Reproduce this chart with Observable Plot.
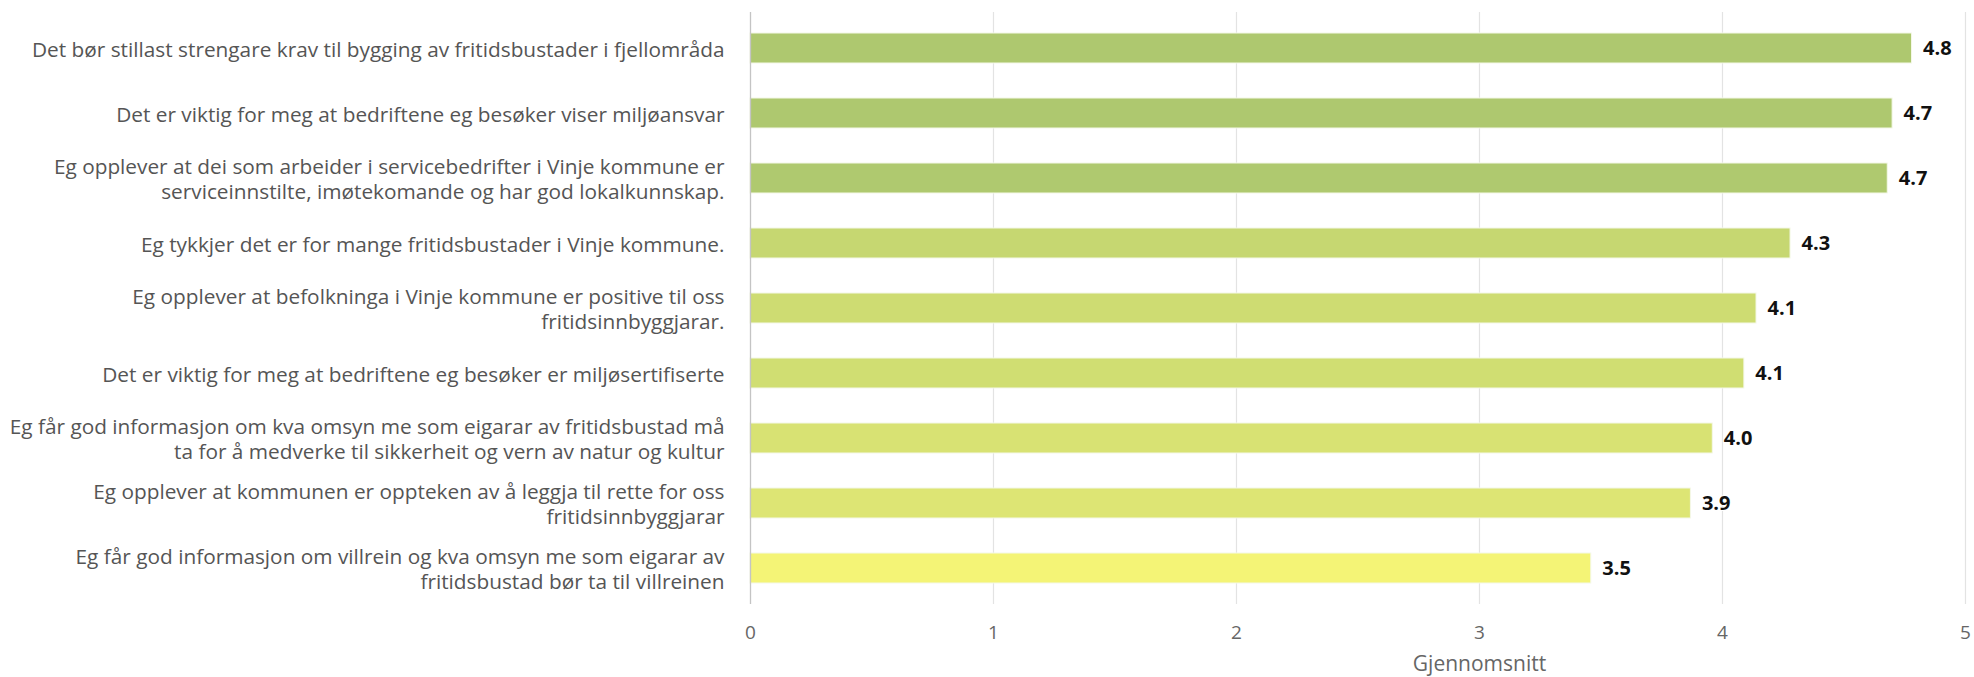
<!DOCTYPE html>
<html>
<head>
<meta charset="utf-8">
<script src="https://cdn.jsdelivr.net/npm/d3@7"></script>
<script src="https://cdn.jsdelivr.net/npm/@observablehq/plot@0.6"></script>
<style>
  html, body { margin: 0; padding: 0; background: #fff; }
  #chart svg { display: block; }
</style>
</head>
<body>
<div id="chart"></div>
<script>
const labels = [
  "Det bør stillast strengare krav til bygging av fritidsbustader i fjellområda",
  "Det er viktig for meg at bedriftene eg besøker viser miljøansvar",
  "Eg opplever at dei som arbeider i servicebedrifter i Vinje kommune er\nserviceinnstilte, imøtekomande og har god lokalkunnskap.",
  "Eg tykkjer det er for mange fritidsbustader i Vinje kommune.",
  "Eg opplever at befolkninga i Vinje kommune er positive til oss\nfritidsinnbyggjarar.",
  "Det er viktig for meg at bedriftene eg besøker er miljøsertifiserte",
  "Eg får god informasjon om kva omsyn me som eigarar av fritidsbustad må\nta for å medverke til sikkerheit og vern av natur og kultur",
  "Eg opplever at kommunen er oppteken av å leggja til rette for oss\nfritidsinnbyggjarar",
  "Eg får god informasjon om villrein og kva omsyn me som eigarar av\nfritidsbustad bør ta til villreinen"
];
const values = [4.78, 4.70, 4.68, 4.28, 4.14, 4.09, 3.96, 3.87, 3.46];
const xTicks = [0, 1, 2, 3, 4, 5];
const xTitle = "Gjennomsnitt";

const data = labels.map((label, i) => ({label, value: values[i]}));

const chart = Plot.plot({
  width: 1974,
  height: 677,
  marginLeft: 750,
  marginRight: 9,
  marginTop: 12,
  marginBottom: 73,
  style: {fontFamily: "'Open Sans', sans-serif", background: "#fff"},
  x: {domain: [0, 5], ticks: xTicks},
  y: {domain: labels, paddingInner: 0.544, paddingOuter: 0.272},
  color: {type: "linear", domain: [3.46, 4.7], range: ["#f4f476", "#aec86f"], clamp: true},
  marks: [
    Plot.gridX(xTicks.slice(1), {stroke: "#e3e3e3", strokeOpacity: 1, strokeWidth: 1.2}),
    Plot.barX(data, {x: "value", y: "label", fill: "value", stroke: "#f4f8e8", strokeWidth: 1}),
    Plot.ruleX([0], {stroke: "#c4c4c4", strokeWidth: 1.3}),
    Plot.axisY({tickSize: 0, tickPadding: 26, fontSize: 20.8, lineHeight: 1.2, fill: "#555", label: null}),
    Plot.axisX({ticks: xTicks, tickFormat: d3.format("d"), tickSize: 0, tickPadding: 21, fontSize: 19, fill: "#666", label: null}),
    Plot.text(data, {x: "value", y: "label", text: d => d.value.toFixed(1), dx: 11, textAnchor: "start",
      fontWeight: "bold", fontSize: 20, fill: "#111", stroke: "white", strokeWidth: 2, paintOrder: "stroke"}),
    Plot.text([xTitle], {x: 3, frameAnchor: "bottom", dy: 60, text: d => d, fontSize: 21, fill: "#666", lineAnchor: "middle"})
  ]
});
document.getElementById("chart").appendChild(chart);
</script>
</body>
</html>
